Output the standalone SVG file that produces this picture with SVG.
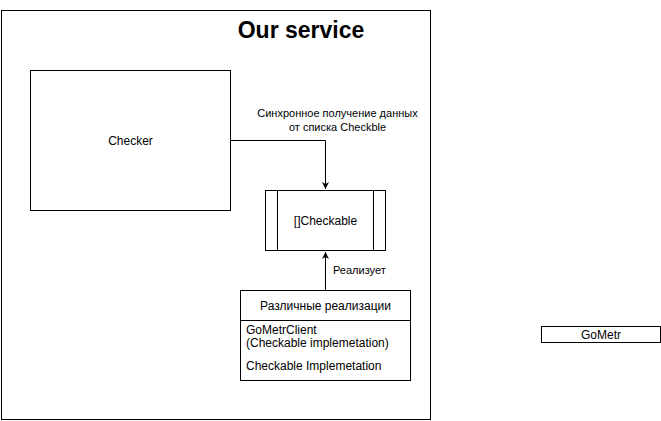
<svg xmlns="http://www.w3.org/2000/svg" width="661" height="421" viewBox="0 0 661 421">
<defs>
<style>
.box{fill:#fff;stroke:#000;stroke-width:1}
.t{font-family:"Liberation Sans",Arial,sans-serif;font-size:12px;fill:#000}
.s{font-size:11px}
.c{text-anchor:middle}
.edge{fill:none;stroke:#000;stroke-width:1}
</style>
<marker id="arr" markerWidth="8" markerHeight="8" refX="7" refY="4" orient="auto" markerUnits="userSpaceOnUse">
<path d="M0,0.5 L7,4 L0,7.5 L2,4 Z" fill="#000"/>
</marker>
</defs>
<rect width="661" height="421" fill="#fff"/>
<g id="our-service">
<rect class="box" x="1.5" y="10.5" width="429" height="409"/>
<text x="301" y="38" text-anchor="middle" font-family="'Liberation Sans',Arial,sans-serif" font-weight="bold" font-size="23px">Our service</text>
</g>
<g id="checker">
<rect class="box" x="30.5" y="70.5" width="200" height="140"/>
<text class="t c" x="130.5" y="144.5">Checker</text>
</g>
<g id="checkable">
<rect class="box" x="265.5" y="190.5" width="120" height="60"/>
<line class="edge" x1="277.5" y1="190.5" x2="277.5" y2="250.5"/>
<line class="edge" x1="373.5" y1="190.5" x2="373.5" y2="250.5"/>
<text class="t c" x="325.5" y="224.5">[]Checkable</text>
</g>
<g id="implementations">
<rect class="box" x="240.5" y="290.5" width="170" height="90"/>
<line class="edge" x1="240.5" y1="320.5" x2="410.5" y2="320.5"/>
<text class="t c" x="325.5" y="309.5">Различные реализации</text>
<text class="t" x="246" y="334">GoMetrClient</text>
<text class="t" x="246" y="347">(Checkable implemetation)</text>
<text class="t" x="246" y="370">Checkable Implemetation</text>
</g>
<g id="gometr">
<rect class="box" x="541.5" y="326.5" width="119" height="16"/>
<text class="t c" x="601" y="338.5">GoMetr</text>
</g>
<g id="connectors">
<path class="edge" d="M230.5,140.5 H325.5 V189" marker-end="url(#arr)"/>
<text class="t s c" x="337.5" y="117">Синхронное получение данных</text>
<text class="t s c" x="337.5" y="131">от списка Checkble</text>
<path class="edge" d="M325.5,290.5 V252" marker-end="url(#arr)"/>
<text class="t s" x="333" y="274">Реализует</text>
</g>
</svg>
